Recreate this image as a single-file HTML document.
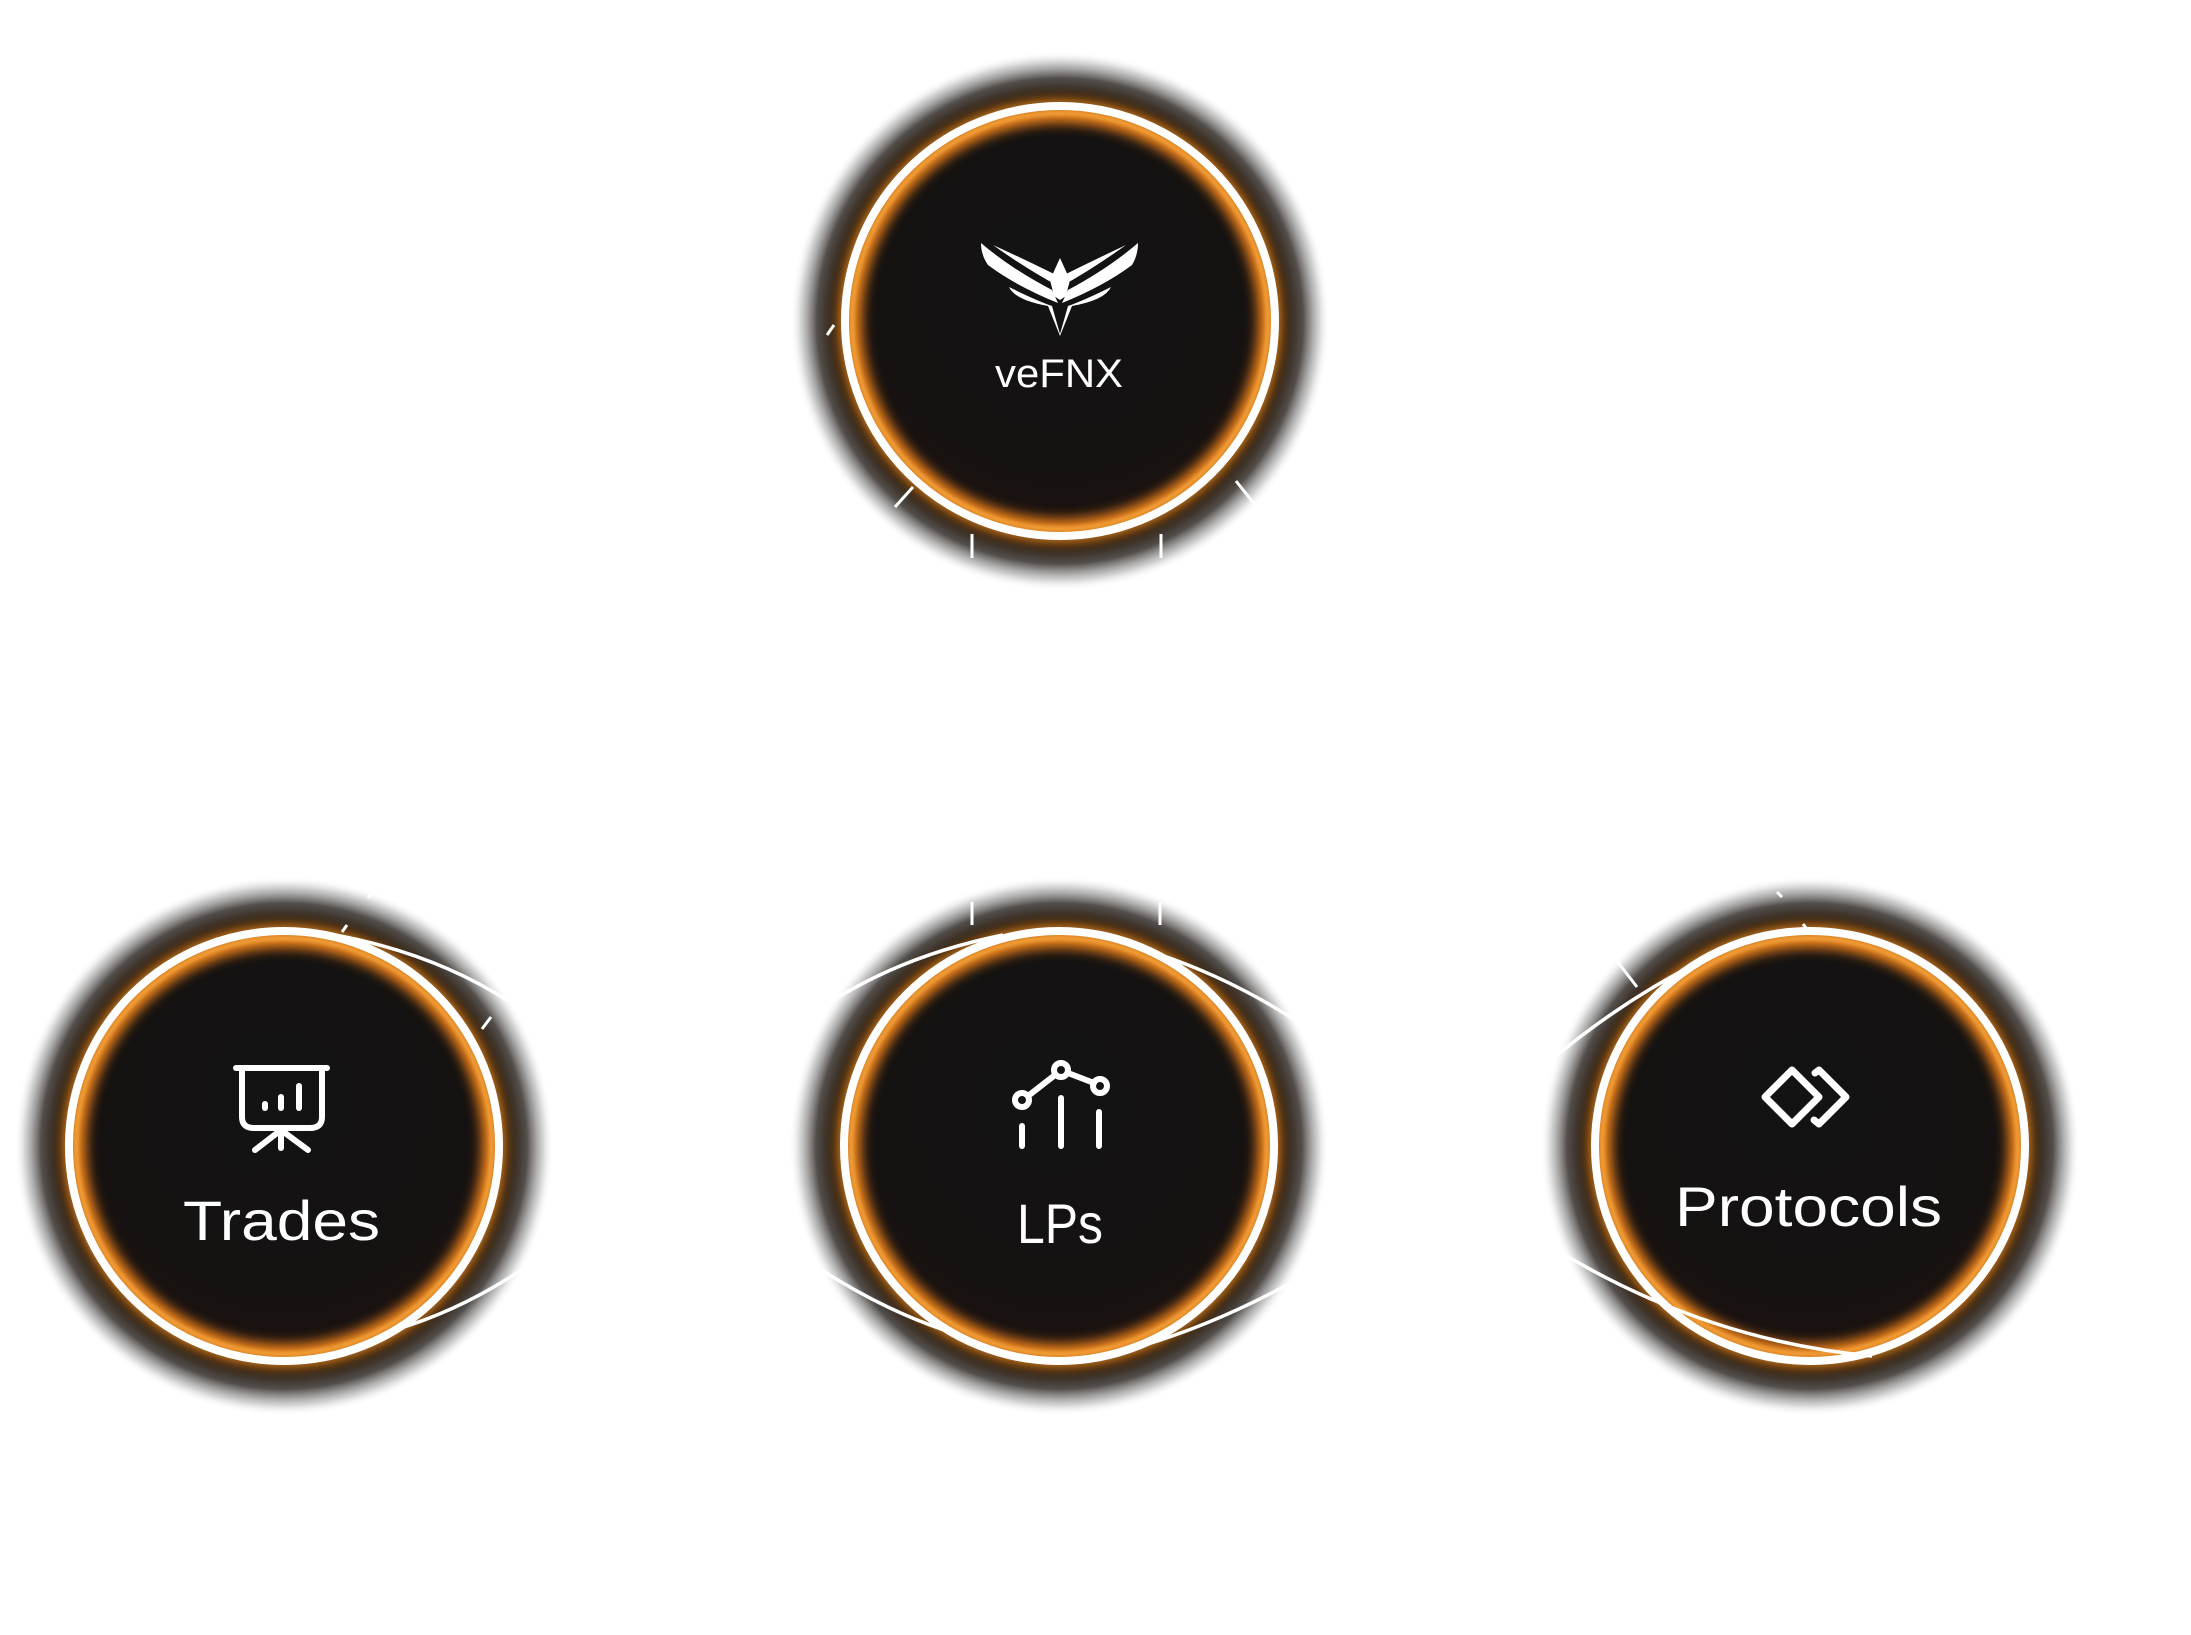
<!DOCTYPE html>
<html><head><meta charset="utf-8"><style>
html,body{margin:0;padding:0;background:#fff;}
svg{display:block}
text{font-family:"Liberation Sans",sans-serif;fill:#fff}
</style></head><body>
<svg width="2191" height="1635" viewBox="0 0 2191 1635" xmlns="http://www.w3.org/2000/svg">
<defs>
<radialGradient id="sh" cx="0.5" cy="0.5" r="0.5">
<stop offset="0" stop-color="#141313"/>
<stop offset="0.6" stop-color="#141313"/>
<stop offset="0.75" stop-color="#1a1310"/>
<stop offset="0.83" stop-color="#2a1a0c"/>
<stop offset="0.9" stop-color="#1a1410" stop-opacity="0.75"/>
<stop offset="0.96" stop-color="#555" stop-opacity="0.25"/>
<stop offset="1" stop-color="#fff" stop-opacity="0"/>
</radialGradient>
<radialGradient id="inner" cx="0.5" cy="0.4" r="0.6">
<stop offset="0" stop-color="#131313"/>
<stop offset="0.7" stop-color="#151212"/>
<stop offset="1" stop-color="#1c1210"/>
</radialGradient>
<filter id="bl" x="-20%" y="-20%" width="140%" height="140%"><feGaussianBlur stdDeviation="6"/></filter>
<filter id="bl2" x="-20%" y="-20%" width="140%" height="140%"><feGaussianBlur stdDeviation="2"/></filter>
<clipPath id="c1"><rect x="31" y="880" width="517" height="540"/></clipPath>
<clipPath id="c2"><rect x="803" y="880" width="517" height="540"/></clipPath>
<clipPath id="c3"><rect x="1552" y="880" width="520" height="540"/></clipPath>
<g id="node">
<circle r="270" fill="url(#sh)"/>
<circle r="212" fill="url(#inner)"/>
<circle r="206" fill="none" stroke="#ff8a1a" stroke-width="16" filter="url(#bl)" opacity="0.9"/>
<circle r="208" fill="none" stroke="#ffb347" stroke-width="4" filter="url(#bl2)"/>
<circle r="216" fill="none" stroke="#ff9a2a" stroke-width="12" filter="url(#bl)" opacity="0.7"/>
<circle r="215" fill="none" stroke="#fff" stroke-width="8"/>
</g>
</defs>

<!-- top node -->
<use href="#node" x="1060" y="321"/>
<g stroke="#fff" stroke-width="3">
<line x1="827" y1="335" x2="834" y2="325"/>
<line x1="895" y1="507" x2="913" y2="487"/>
<line x1="854" y1="560" x2="872" y2="539"/>
<line x1="972" y1="534" x2="972" y2="558"/>
<line x1="1161" y1="534" x2="1161" y2="558"/>
<line x1="1236" y1="481" x2="1256" y2="506"/>
<line x1="1278" y1="535" x2="1293" y2="552"/>
</g>
<g fill="#fff">
<path d="M981 243 Q1010 268 1052 290 L1058 303 Q1016 286 988 265 Q981 255 981 243Z"/>
<path d="M993 245 Q1025 268 1058 286 L1058 276 Q1030 262 993 245Z"/>
<path d="M1138 243 Q1109 268 1068 290 L1062 303 Q1104 286 1132 265 Q1138 255 1138 243Z"/>
<path d="M1126 245 Q1094 268 1062 286 L1062 276 Q1090 262 1126 245Z"/>
<path d="M1050 280 L1060 258 L1070 280 L1066 296 L1060 300 L1054 296Z"/>
<path d="M1009 287 Q1035 300 1052 306 L1060 334 L1068 306 Q1085 300 1111 287 Q1105 300 1072 306 L1060 336 L1048 306 Q1015 300 1009 287Z"/>
</g>
<text x="995" y="387" font-size="40" textLength="128" lengthAdjust="spacingAndGlyphs">veFNX</text>

<!-- bottom nodes -->
<use href="#node" x="284" y="1146"/>
<use href="#node" x="1059" y="1146"/>
<use href="#node" x="1810" y="1146"/>

<g fill="none" stroke="#fff" stroke-width="3.5">
<g clip-path="url(#c1)">
<path d="M335 935 Q470 960 560 1040"/>
<path d="M560 1242 Q480 1305 394 1330"/>
</g>
<g clip-path="url(#c2)">
<path d="M1003 935 Q880 960 795 1027"/>
<path d="M1158 954 Q1250 985 1328 1043"/>
<path d="M795 1252 Q870 1305 944 1330"/>
<path d="M1328 1262 Q1230 1320 1141 1346"/>
</g>
<g clip-path="url(#c3)">
<path d="M1680 972 Q1610 1010 1545 1065"/>
<path d="M1545 1243 Q1700 1340 1872 1356"/>
</g>
</g>
<g stroke="#fff" stroke-width="3">
<line x1="342" y1="932" x2="347" y2="925"/>
<line x1="368" y1="898" x2="372" y2="893"/>
<line x1="515" y1="987" x2="532" y2="967"/>
<line x1="482" y1="1029" x2="491" y2="1017"/>
<line x1="972" y1="902" x2="972" y2="925"/>
<line x1="1160" y1="902" x2="1160" y2="925"/>
<line x1="1617" y1="961" x2="1637" y2="987"/>
<line x1="1585" y1="915" x2="1595" y2="932"/>
<line x1="1777" y1="892" x2="1782" y2="897"/>
<line x1="1803" y1="924" x2="1806" y2="928"/>
</g>

<!-- Trades icon -->
<g fill="none" stroke="#fff" stroke-width="6" stroke-linecap="round" stroke-linejoin="round">
<line x1="236" y1="1068" x2="327" y2="1068"/>
<path d="M242 1068 V1117 Q242 1128 254 1128 H310 Q322 1128 322 1117 V1068"/>
<line x1="265" y1="1104" x2="265" y2="1108"/>
<line x1="281" y1="1097" x2="281" y2="1108"/>
<line x1="299" y1="1086" x2="299" y2="1108"/>
<line x1="281" y1="1130" x2="255" y2="1150"/>
<line x1="281" y1="1130" x2="308" y2="1150"/>
<line x1="281" y1="1130" x2="281" y2="1148"/>
</g>
<text x="183" y="1240" font-size="56" textLength="197" lengthAdjust="spacingAndGlyphs">Trades</text>

<!-- LPs icon -->
<g fill="none" stroke="#fff" stroke-width="6" stroke-linecap="round">
<circle cx="1022" cy="1100" r="7"/>
<circle cx="1061" cy="1070" r="7"/>
<circle cx="1100" cy="1086" r="7"/>
<line x1="1028" y1="1096" x2="1055" y2="1075"/>
<line x1="1068" y1="1073" x2="1094" y2="1083"/>
<line x1="1022" y1="1126" x2="1022" y2="1146"/>
<line x1="1061" y1="1098" x2="1061" y2="1146"/>
<line x1="1099" y1="1112" x2="1099" y2="1146"/>
</g>
<text x="1017" y="1243" font-size="56" textLength="86" lengthAdjust="spacingAndGlyphs">LPs</text>

<!-- Protocols icon -->
<g fill="none" stroke="#fff" stroke-width="7" stroke-linejoin="round" stroke-linecap="round">
<path d="M1792 1070 L1819 1097 L1792 1124 L1765 1097 Z"/>
<path d="M1815 1073 L1819 1070 L1846 1097 L1819 1124 L1814 1120"/>
</g>
<text x="1675" y="1226" font-size="56" textLength="267" lengthAdjust="spacingAndGlyphs">Protocols</text>
</svg>
</body></html>
